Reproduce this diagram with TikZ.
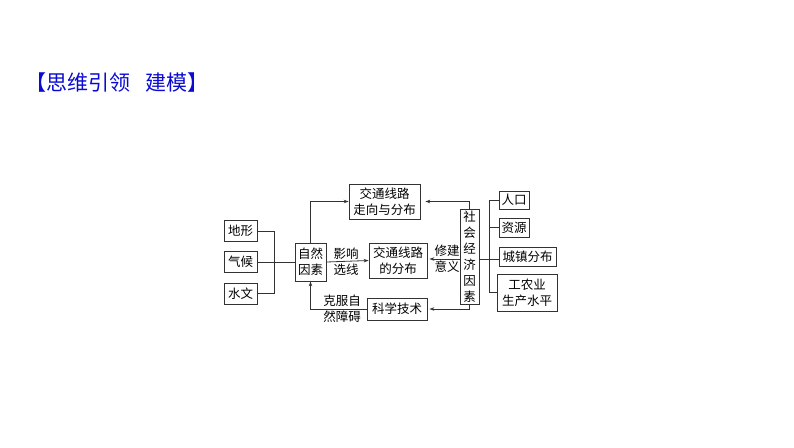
\documentclass[tikz,border=0pt]{standalone}
\usepackage{fontspec}
\setmainfont{Noto Sans CJK SC}
\usetikzlibrary{arrows.meta}
\definecolor{titleblue}{RGB}{10,10,210}
\definecolor{linegray}{RGB}{50,50,50}
\tikzset{
  box/.style={draw=linegray,line width=0.8pt,inner sep=0pt,align=center,font=\fontsize{12.5}{16}\selectfont},
  label/.style={inner sep=0pt,align=center,font=\fontsize{12.5}{16}\selectfont},
  link/.style={draw=linegray,line width=0.8pt},
  linkarrow/.style={link,-{Stealth[length=5pt,width=3.5pt]}}
}
\begin{document}
\begin{tikzpicture}[x=1pt,y=-1pt]
      \useasboundingbox (0,0) rectangle (794,447);
      \node[text=titleblue,inner sep=0pt,anchor=west,font=\fontsize{21}{24}\selectfont] (title) at (25,83) {【思维引领\hspace{15pt}建模】};
      \draw
        (240.5,231) node[box,minimum width=33pt,minimum height=21pt] (landform){地形}
        (240.5,262) node[box,minimum width=33pt,minimum height=21pt] (climate){气候}
        (240.5,293.5) node[box,minimum width=33pt,minimum height=21pt] (water){水文}
        (310.5,262) node[box,minimum width=31pt,minimum height=38pt] (nature){自然\\因素}
        (384.5,201.5) node[box,minimum width=71pt,minimum height=35pt] (route){交通线路\\走向与分布}
        (398,260.5) node[box,minimum width=58pt,minimum height=35pt] (network){交通线路\\的分布}
        (397,309) node[box,minimum width=60pt,minimum height=22pt] (tech){科学技术}
        (469.5,256.5) node[box,minimum width=19pt,minimum height=95pt] (society){社\\会\\经\\济\\因\\素}
        (514,200) node[box,minimum width=30pt,minimum height=18pt] (people){人口}
        (514,227.5) node[box,minimum width=30pt,minimum height=19pt] (resource){资源}
        (527.5,256.5) node[box,minimum width=57pt,minimum height=19pt] (town){城镇分布}
        (527,292.5) node[box,minimum width=60pt,minimum height=37pt] (industry){工农业\\生产水平};
      \draw
        (346,262) node[label] (influence){影响\\选线}
        (342,309) node[label] (overcome){克服自\\然障碍}
        (447,259) node[label] (purpose){修建\\意义};
      \coordinate (leftjoin) at (274,262);
      \coordinate (rightjoin) at (489,259);
      \begin{scope}[link]
        \draw (landform.east) -| (leftjoin);
        \draw (water.east) -| (leftjoin);
        \draw (climate.east) -- (nature.west);
        \draw (society.east |- rightjoin) -- (town.west |- rightjoin);
        \draw (people.west) -| (rightjoin);
        \draw (resource.west) -- (resource.west -| rightjoin);
        \draw (industry.west) -| (rightjoin);
      \end{scope}
      \begin{scope}[linkarrow]
        \draw (nature.north) |- (route.west);
        \draw (nature.east) -- (network.west);
        \draw (tech.west) -| (nature.south);
        \draw[shorten >=5pt] (society.north) |- (route.east);
        \draw[shorten >=2pt] (society.west |- rightjoin) -- (network.east |- rightjoin);
        \draw[shorten >=2pt] (society.south) |- (tech.east);
      \end{scope}
    \end{tikzpicture}
\end{document}
